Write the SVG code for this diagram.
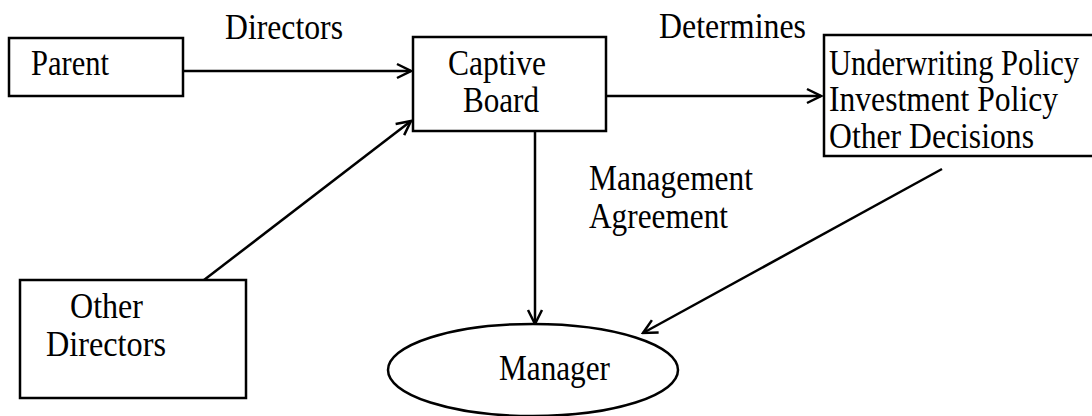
<svg xmlns="http://www.w3.org/2000/svg" width="1092" height="416" viewBox="0 0 1092 416">
<style>
.box{fill:#fff;stroke:#000;stroke-width:2.5}
.t{font-family:"Liberation Serif","Times New Roman",serif;font-size:35px;fill:#000}
.p{font-family:"Liberation Serif","Times New Roman",serif;font-size:31px;fill:#000}
.c{fill:none;stroke:#000;stroke-width:2.5}
</style>
<defs>
<marker id="ah" viewBox="0 0 20 20" refX="18" refY="10" markerWidth="20" markerHeight="20" markerUnits="userSpaceOnUse" orient="auto">
<path d="M4,3 L18,10 L4,17" fill="none" stroke="#000" stroke-width="2.5"/>
</marker>
</defs>
<rect width="1092" height="416" fill="#fff"/>
<g id="connectors">
<line class="c" x1="183" y1="71" x2="411" y2="71" marker-end="url(#ah)"/>
<line class="c" x1="606" y1="96" x2="821" y2="96" marker-end="url(#ah)"/>
<line class="c" x1="204" y1="280" x2="411" y2="121" marker-end="url(#ah)"/>
<line class="c" x1="535" y1="131" x2="535" y2="324" marker-end="url(#ah)"/>
<line class="c" x1="942" y1="169" x2="643" y2="333" marker-end="url(#ah)"/>
<text class="t" x="225" y="39" textLength="118" lengthAdjust="spacingAndGlyphs">Directors</text>
<text class="t" x="659" y="38" textLength="147" lengthAdjust="spacingAndGlyphs">Determines</text>
<text class="t" x="589" y="190" textLength="164" lengthAdjust="spacingAndGlyphs">Management</text>
<text class="t" x="589" y="228" textLength="139" lengthAdjust="spacingAndGlyphs">Agreement</text>
</g>
<g id="parent">
<rect class="box" x="9" y="38" width="174" height="58"/>
<text class="t" x="31" y="75" textLength="78" lengthAdjust="spacingAndGlyphs">Parent</text>
</g>
<g id="captive-board">
<rect class="box" x="413" y="37" width="193" height="94"/>
<text class="t" x="448" y="75" textLength="98" lengthAdjust="spacingAndGlyphs">Captive</text>
<text class="t" x="463" y="112" textLength="76" lengthAdjust="spacingAndGlyphs">Board</text>
</g>
<g id="policies">
<rect class="box" x="824" y="35" width="280" height="121"/>
<text class="p" transform="translate(829,75) scale(1,1.13)" x="0" y="0" textLength="250" lengthAdjust="spacingAndGlyphs">Underwriting Policy</text>
<text class="p" transform="translate(829,111) scale(1,1.13)" x="0" y="0" textLength="229" lengthAdjust="spacingAndGlyphs">Investment Policy</text>
<text class="p" transform="translate(829,148) scale(1,1.13)" x="0" y="0" textLength="205" lengthAdjust="spacingAndGlyphs">Other Decisions</text>
</g>
<g id="other-directors">
<rect class="box" x="20" y="280" width="226" height="118"/>
<text class="t" x="70" y="318" textLength="73" lengthAdjust="spacingAndGlyphs">Other</text>
<text class="t" x="46" y="356" textLength="120" lengthAdjust="spacingAndGlyphs">Directors</text>
</g>
<g id="manager">
<ellipse class="box" cx="533" cy="370" rx="145" ry="46"/>
<text class="t" x="499" y="380" textLength="111" lengthAdjust="spacingAndGlyphs">Manager</text>
</g>
</svg>
